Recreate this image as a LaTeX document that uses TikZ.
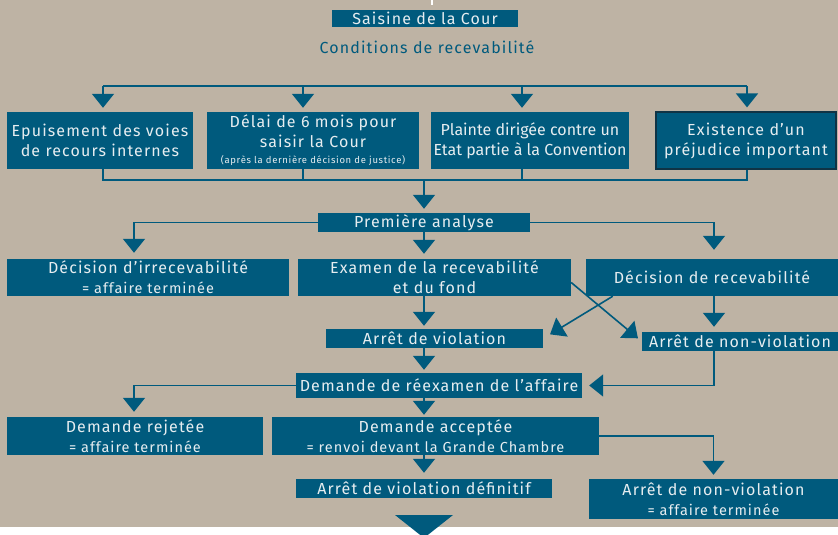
\documentclass[tikz,border=0pt]{standalone}
\usepackage{xcolor}
\usepackage{fontspec}
\setmainfont{Fira Sans}[LetterSpace=7]
\newfontfamily\tightfont{Fira Sans}
\usepackage{tikz}
\usetikzlibrary{
  arrows.meta,
  calc}

\definecolor{sand}{HTML}{BEB3A4}
\definecolor{boxblue}{HTML}{005A7D}
\definecolor{boxtext}{HTML}{E6EDF0}
\definecolor{boxedge}{HTML}{0F3345}

\newcommand{\fsmain}{\fontsize{16}{20}\selectfont}
\newcommand{\fssub}{\fontsize{14.5}{19}\selectfont}
\newcommand{\fsnote}{\fontsize{9.5}{12}\selectfont}
\newcommand{\fsnarrow}{\tightfont\fontsize{16}{20}\selectfont}

\tikzset{
  box/.style={fill=boxblue, text=boxtext, inner sep=0pt, align=center,
    font=\fsmain},
  link/.style={draw=boxblue, line width=1.6pt},
  arr/.style={link, -{Triangle[width=22pt,length=14pt]}}}

\begin{document}
\begin{tikzpicture}[x=1pt,y=-1pt]
  \useasboundingbox (0,0) rectangle (838,535);
  \fill[white] (0,0) rectangle (838,535);
  \fill[sand] (0,0) rectangle (838,527);
  \draw[white, line width=2pt] (432,0) -- (432,5);

  \node[box, minimum width=186pt, minimum height=17pt] (saisine) at (425,18.5) {Saisine de la Cour};
  \node[text=boxblue, font=\fsmain] (cond) at (427,47) {Conditions de recevabilité};

  % conditions
  \node[box, minimum width=186pt, minimum height=57pt] (epuis) at (100,140.5)
    {Epuisement des voies\\de recours internes};
  \node[box, minimum width=212pt, minimum height=57pt] (delai) at (313,140.5)
    {Délai de 6 mois pour\\saisir la Cour\\[-4pt]{\fsnote (après la dernière décision de justice)}};
  \node[box, font=\fsnarrow, minimum width=198pt, minimum height=57pt] (plainte) at (530,140.5)
    {Plainte dirigée contre un\\Etat partie à la Convention};
  \node[box, draw=boxedge, line width=1.2pt, minimum width=180pt, minimum height=57pt] (exist) at (746,140.5)
    {Existence d'un\\préjudice important};

  \coordinate (busA) at (103,86);
  \coordinate (busB) at (303,86);
  \coordinate (busC) at (522,86);
  \coordinate (busD) at (747,86);
  \draw[link] (busA) -- (busD);
  \foreach \c/\n in {busA/epuis, busB/delai, busC/plainte, busD/exist}
    \draw[arr, shorten >=4pt] (\c) -- (\c |- \n.north);

  \coordinate (joinA) at (103,180);
  \coordinate (joinD) at (747,180);
  \coordinate (joinM) at (424,180);
  \draw[link] (joinA |- epuis.south) -- (joinA) -- (joinD) -- (joinD |- exist.south);
  \draw[link] (busB |- delai.south) -- (busB |- joinA);
  \draw[link] (busC |- plainte.south) -- (busC |- joinA);

  % analyse
  \node[box, minimum width=212pt, minimum height=19pt] (prem) at (424,222.5) {Première analyse};
  \draw[arr, shorten >=4pt] (joinM) -- (joinM |- prem.north);

  \node[box, minimum width=282pt, minimum height=37pt] (irrec) at (148,277.5)
    {Décision d'irrecevabilité\\{\fssub = affaire terminée}};
  \node[box, minimum width=273pt, minimum height=37pt] (examen) at (434.5,277.5)
    {Examen de la recevabilité\\et du fond};
  \node[box, minimum width=252pt, minimum height=37pt] (recev) at (712,277.5)
    {Décision de recevabilité};
  \node[box, minimum width=217pt, minimum height=19pt] (viol) at (434.5,338.5) {Arrêt de violation};
  \node[box, minimum width=196pt, minimum height=19pt] (nonviol) at (740,341.5) {Arrêt de non-violation};

  \coordinate (lcol) at (134,0);
  \coordinate (rcol) at (714,0);
  \draw[arr, shorten >=6pt] (prem.west) -| (lcol |- irrec.north);
  \draw[arr, shorten >=9pt] (prem.east) -| (rcol |- recev.north);
  \draw[arr, shorten >=5pt] (prem.south) -- (prem.south |- examen.north);
  \draw[arr, shorten >=3pt] (prem.south |- examen.south) -- (prem.south |- viol.north);
  \draw[arr, shorten >=5pt] ($(examen.east)+(0,5)$) -- (nonviol.west);
  \draw[arr, shorten >=8pt] ($(recev.south west)+(27,0)$) -- (viol.east);
  \draw[arr, shorten >=5pt] (rcol |- recev.south) -- (rcol |- nonviol.north);

  % reexamen
  \node[box, minimum width=286pt, minimum height=25pt] (reexam) at (439,385.5)
    {Demande de réexamen de l'affaire};
  \draw[arr, shorten >=3pt] (prem.south |- viol.south) -- (prem.south |- reexam.north);
  \draw[arr, shorten >=7pt] (rcol |- nonviol.south) |- (reexam.east);

  \node[box, minimum width=256pt, minimum height=38pt] (rejet) at (135,436)
    {Demande rejetée\\{\fssub = affaire terminée}};
  \node[box, minimum width=327pt, minimum height=38pt] (accept) at (435.5,436)
    {Demande acceptée\\{\fssub = renvoi devant la Grande Chambre}};
  \node[box, minimum width=256pt, minimum height=19pt] (final) at (424,488.5)
    {Arrêt de violation définitif};
  \node[box, minimum width=249pt, minimum height=40pt] (nonfinal) at (713.5,499)
    {Arrêt de non-violation\\{\fssub = affaire terminée}};

  \draw[arr, shorten >=5pt] (reexam.west) -| (lcol |- rejet.north);
  \draw[arr, shorten >=2pt] (prem.south |- reexam.south) -- (prem.south |- accept.north);
  \draw[arr, shorten >=4pt] (accept.east) -| (nonfinal.north);
  \draw[arr, shorten >=6pt] (prem.south |- accept.south) -- (final.north);

  \fill[boxblue] (395,515) -- (453,515) -- (424,538) -- cycle;
\end{tikzpicture}
\end{document}
